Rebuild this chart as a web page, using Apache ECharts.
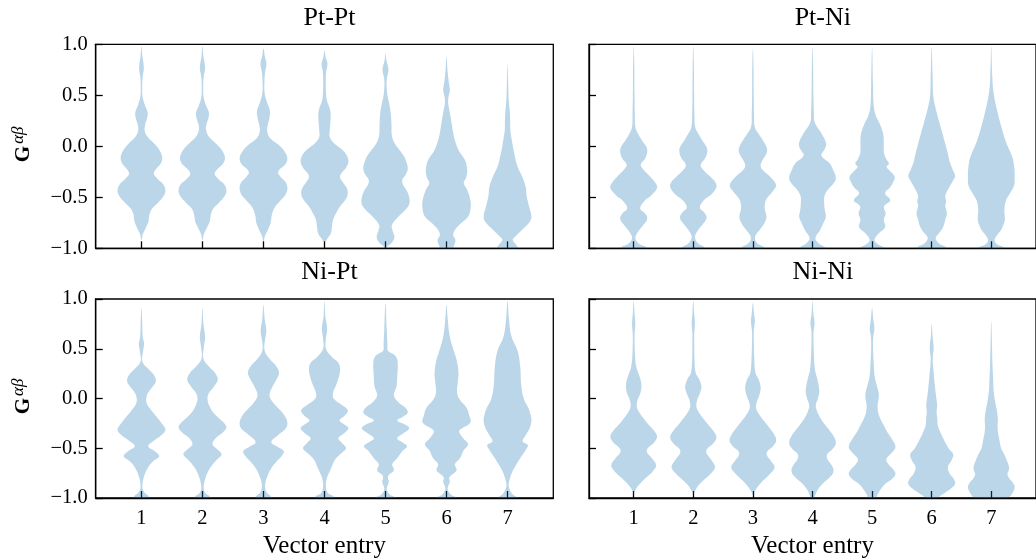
<!DOCTYPE html>
<html>
<head>
<meta charset="utf-8">
<script src="https://cdn.jsdelivr.net/npm/echarts@6/dist/echarts.min.js"></script>
<style>
  html, body { margin: 0; padding: 0; background: #fff; }
  #chart { width: 1036px; height: 560px; }
</style>
</head>
<body>
<div id="chart"></div>
<script>
// Panel titles, vector entries and y ticks
const panelTitles = ['Pt-Pt', 'Pt-Ni', 'Ni-Pt', 'Ni-Ni'];
const entries = [1, 2, 3, 4, 5, 6, 7];
const yTicks = [-1.0, -0.5, 0.0, 0.5, 1.0];

// Violin profiles per vector entry: [G value, relative density (peak = 1)]
const ptPt = [
  [[0.98,0],[0.88,0.04],[0.77,0.1],[0.68,0.05],[0.58,0.03],[0.48,0.05],[0.4,0.15],[0.33,0.26],[0.27,0.23],[0.21,0.15],[0.15,0.14],[0.09,0.26],[0.03,0.52],[-0.04,0.76],[-0.11,0.87],[-0.17,0.8],[-0.22,0.62],[-0.27,0.52],[-0.32,0.68],[-0.37,0.9],[-0.43,1.0],[-0.49,0.92],[-0.55,0.7],[-0.61,0.45],[-0.67,0.33],[-0.74,0.29],[-0.8,0.18],[-0.86,0.06],[-0.92,0]],
  [[0.98,0],[0.88,0.04],[0.77,0.11],[0.68,0.05],[0.58,0.03],[0.48,0.05],[0.4,0.15],[0.33,0.27],[0.27,0.24],[0.21,0.16],[0.16,0.15],[0.09,0.28],[0.03,0.55],[-0.04,0.82],[-0.11,0.94],[-0.17,0.86],[-0.22,0.64],[-0.27,0.51],[-0.32,0.66],[-0.37,0.9],[-0.43,1.0],[-0.49,0.92],[-0.55,0.7],[-0.61,0.45],[-0.67,0.35],[-0.74,0.3],[-0.8,0.18],[-0.86,0.06],[-0.92,0]],
  [[0.96,0],[0.88,0.06],[0.81,0.125],[0.73,0.07],[0.63,0.04],[0.52,0.05],[0.43,0.15],[0.35,0.27],[0.28,0.25],[0.2,0.17],[0.14,0.16],[0.08,0.28],[0.02,0.6],[-0.05,0.88],[-0.12,1.0],[-0.18,0.9],[-0.22,0.7],[-0.26,0.61],[-0.3,0.72],[-0.35,0.92],[-0.41,1.0],[-0.47,0.93],[-0.53,0.72],[-0.6,0.47],[-0.67,0.35],[-0.75,0.3],[-0.82,0.18],[-0.88,0.06],[-0.94,0]],
  [[0.94,0],[0.87,0.05],[0.81,0.125],[0.73,0.07],[0.65,0.055],[0.55,0.06],[0.45,0.1],[0.37,0.22],[0.3,0.26],[0.22,0.24],[0.15,0.22],[0.09,0.22],[0.03,0.4],[-0.03,0.72],[-0.09,0.93],[-0.15,1.0],[-0.21,0.9],[-0.26,0.72],[-0.3,0.65],[-0.35,0.76],[-0.41,0.93],[-0.47,0.97],[-0.53,0.86],[-0.6,0.62],[-0.66,0.48],[-0.72,0.36],[-0.79,0.31],[-0.85,0.27],[-0.9,0.14],[-0.94,0]],
  [[0.91,0],[0.84,0.04],[0.75,0.125],[0.67,0.06],[0.6,0.045],[0.5,0.08],[0.4,0.17],[0.3,0.23],[0.2,0.25],[0.1,0.27],[0.03,0.38],[-0.04,0.6],[-0.1,0.78],[-0.16,0.88],[-0.22,0.93],[-0.28,0.84],[-0.33,0.7],[-0.38,0.74],[-0.44,0.9],[-0.5,0.99],[-0.56,1.0],[-0.61,0.88],[-0.67,0.62],[-0.73,0.38],[-0.78,0.26],[-0.83,0.3],[-0.89,0.37],[-0.94,0.28],[-0.98,0.08],[-1.0,0]],
  [[0.88,0],[0.75,0.04],[0.62,0.1],[0.55,0.14],[0.48,0.08],[0.42,0.07],[0.33,0.14],[0.23,0.21],[0.13,0.28],[0.06,0.35],[-0.04,0.51],[-0.13,0.76],[-0.22,0.86],[-0.3,0.83],[-0.36,0.72],[-0.43,0.87],[-0.53,1.0],[-0.62,1.0],[-0.69,0.9],[-0.75,0.63],[-0.82,0.35],[-0.87,0.28],[-0.92,0.375],[-0.98,0.3],[-1.1,0.1]],
  [[0.81,0],[0.6,0.03],[0.45,0.05],[0.35,0.09],[0.25,0.11],[0.15,0.12],[0.06,0.18],[-0.07,0.28],[-0.2,0.42],[-0.3,0.62],[-0.4,0.76],[-0.49,0.8],[-0.59,0.9],[-0.69,1.0],[-0.75,0.9],[-0.82,0.6],[-0.89,0.3],[-0.92,0.22],[-0.97,0.38],[-1.0,0.42],[-1.1,0.1]]
];
const ptNi = [
  [[0.98,0],[0.8,0.025],[0.5,0.035],[0.3,0.05],[0.19,0.07],[0.13,0.17],[0.06,0.35],[0.0,0.53],[-0.05,0.58],[-0.12,0.49],[-0.18,0.3],[-0.23,0.42],[-0.3,0.72],[-0.36,0.93],[-0.41,1.0],[-0.48,0.76],[-0.54,0.44],[-0.61,0.28],[-0.66,0.49],[-0.71,0.58],[-0.77,0.42],[-0.84,0.18],[-0.9,0.07],[-0.95,0.2],[-1.0,0.56],[-1.1,0.5]],
  [[0.98,0],[0.8,0.025],[0.5,0.035],[0.3,0.05],[0.19,0.08],[0.13,0.2],[0.06,0.38],[0.0,0.55],[-0.05,0.6],[-0.12,0.5],[-0.18,0.32],[-0.23,0.42],[-0.3,0.74],[-0.35,0.94],[-0.4,0.99],[-0.47,0.78],[-0.53,0.45],[-0.6,0.28],[-0.65,0.47],[-0.7,0.57],[-0.76,0.42],[-0.83,0.18],[-0.89,0.07],[-0.95,0.2],[-1.0,0.51],[-1.1,0.45]],
  [[0.96,0],[0.8,0.025],[0.5,0.035],[0.3,0.05],[0.19,0.08],[0.12,0.25],[0.05,0.45],[-0.02,0.6],[-0.07,0.58],[-0.13,0.43],[-0.19,0.33],[-0.24,0.45],[-0.3,0.75],[-0.38,0.99],[-0.45,0.82],[-0.51,0.6],[-0.57,0.51],[-0.63,0.52],[-0.69,0.58],[-0.75,0.5],[-0.81,0.32],[-0.87,0.12],[-0.92,0.1],[-0.96,0.25],[-1.0,0.51],[-1.1,0.45]],
  [[0.97,0],[0.8,0.025],[0.5,0.04],[0.33,0.06],[0.23,0.1],[0.13,0.375],[0.03,0.58],[-0.03,0.52],[-0.09,0.38],[-0.17,0.75],[-0.24,0.9],[-0.31,1.0],[-0.37,0.88],[-0.43,0.64],[-0.49,0.51],[-0.56,0.5],[-0.63,0.53],[-0.69,0.57],[-0.75,0.47],[-0.82,0.33],[-0.9,0.125],[-0.95,0.26],[-1.0,0.56],[-1.1,0.5]],
  [[0.97,0],[0.6,0.04],[0.4,0.07],[0.3,0.16],[0.23,0.31],[0.15,0.44],[0.1,0.49],[0.0,0.5],[-0.07,0.51],[-0.13,0.62],[-0.17,0.72],[-0.2,0.62],[-0.25,0.8],[-0.3,0.97],[-0.35,0.9],[-0.4,0.78],[-0.46,0.56],[-0.53,0.78],[-0.59,0.51],[-0.66,0.58],[-0.72,0.5],[-0.79,0.56],[-0.85,0.3],[-0.92,0.1],[-0.96,0.25],[-1.0,0.51],[-1.1,0.45]],
  [[0.97,0],[0.7,0.04],[0.49,0.07],[0.38,0.16],[0.29,0.26],[0.16,0.42],[0.0,0.61],[-0.08,0.7],[-0.16,0.78],[-0.23,0.9],[-0.29,1.0],[-0.34,0.9],[-0.39,0.78],[-0.44,0.66],[-0.49,0.58],[-0.54,0.62],[-0.58,0.58],[-0.66,0.65],[-0.72,0.58],[-0.79,0.49],[-0.85,0.32],[-0.9,0.17],[-0.95,0.3],[-1.0,0.65],[-1.1,0.6]],
  [[0.98,0],[0.7,0.04],[0.55,0.085],[0.39,0.21],[0.2,0.42],[0.03,0.65],[-0.1,0.89],[-0.2,0.98],[-0.3,1.0],[-0.39,0.97],[-0.46,0.8],[-0.53,0.63],[-0.62,0.56],[-0.72,0.58],[-0.77,0.52],[-0.82,0.42],[-0.87,0.25],[-0.92,0.14],[-0.96,0.25],[-1.0,0.56],[-1.1,0.5]]
];
const niPt = [
  [[0.91,0],[0.75,0.035],[0.62,0.055],[0.55,0.11],[0.48,0.07],[0.37,0.04],[0.3,0.28],[0.24,0.51],[0.17,0.6],[0.11,0.44],[0.04,0.24],[-0.04,0.21],[-0.12,0.42],[-0.2,0.69],[-0.28,0.94],[-0.32,1.0],[-0.37,0.83],[-0.43,0.49],[-0.48,0.28],[-0.53,0.56],[-0.58,0.74],[-0.63,0.49],[-0.69,0.28],[-0.79,0.1],[-0.89,0.04],[-0.94,0.11],[-0.99,0.32],[-1.1,0.35]],
  [[0.91,0],[0.75,0.04],[0.62,0.11],[0.52,0.06],[0.4,0.04],[0.32,0.28],[0.26,0.52],[0.19,0.64],[0.12,0.48],[0.05,0.26],[-0.01,0.21],[-0.08,0.3],[-0.14,0.45],[-0.2,0.7],[-0.25,0.92],[-0.29,1.0],[-0.34,0.86],[-0.4,0.55],[-0.46,0.42],[-0.51,0.62],[-0.56,0.8],[-0.61,0.62],[-0.67,0.4],[-0.74,0.22],[-0.82,0.1],[-0.9,0.05],[-0.95,0.12],[-0.99,0.32],[-1.1,0.35]],
  [[0.94,0],[0.8,0.05],[0.68,0.12],[0.58,0.06],[0.48,0.05],[0.4,0.25],[0.33,0.52],[0.26,0.65],[0.19,0.54],[0.11,0.36],[0.03,0.25],[-0.04,0.4],[-0.1,0.63],[-0.17,0.88],[-0.25,1.0],[-0.31,0.9],[-0.37,0.6],[-0.44,0.33],[-0.49,0.62],[-0.53,0.85],[-0.58,0.75],[-0.64,0.52],[-0.71,0.3],[-0.79,0.15],[-0.87,0.07],[-0.94,0.12],[-0.99,0.32],[-1.1,0.35]],
  [[0.98,0],[0.82,0.04],[0.71,0.11],[0.6,0.06],[0.5,0.06],[0.42,0.3],[0.36,0.58],[0.29,0.65],[0.2,0.58],[0.13,0.48],[0.06,0.36],[0.0,0.38],[-0.06,0.7],[-0.12,0.98],[-0.17,0.85],[-0.22,0.63],[-0.26,0.82],[-0.3,1.0],[-0.35,0.82],[-0.4,0.58],[-0.45,0.74],[-0.5,0.9],[-0.55,0.7],[-0.61,0.45],[-0.67,0.33],[-0.73,0.22],[-0.8,0.1],[-0.89,0.06],[-0.95,0.14],[-0.99,0.39],[-1.1,0.4]],
  [[0.96,0],[0.7,0.05],[0.55,0.08],[0.48,0.1],[0.45,0.3],[0.42,0.44],[0.36,0.51],[0.22,0.49],[0.12,0.46],[0.03,0.35],[-0.04,0.55],[-0.09,0.82],[-0.14,0.93],[-0.18,0.75],[-0.22,0.49],[-0.26,0.8],[-0.3,0.99],[-0.35,0.75],[-0.4,0.49],[-0.44,0.7],[-0.48,0.9],[-0.53,0.7],[-0.6,0.49],[-0.66,0.28],[-0.72,0.35],[-0.77,0.13],[-0.8,0.1],[-0.84,0.14],[-0.88,0.08],[-0.92,0.055],[-0.97,0.2],[-1.0,0.42],[-1.1,0.4]],
  [[0.94,0],[0.8,0.05],[0.62,0.14],[0.48,0.3],[0.39,0.42],[0.26,0.5],[0.16,0.47],[0.06,0.44],[-0.01,0.55],[-0.09,0.83],[-0.17,0.95],[-0.24,1.0],[-0.29,0.72],[-0.33,0.53],[-0.4,0.7],[-0.46,0.9],[-0.52,0.72],[-0.6,0.56],[-0.66,0.35],[-0.72,0.42],[-0.77,0.2],[-0.8,0.11],[-0.84,0.14],[-0.88,0.07],[-0.92,0.055],[-0.97,0.2],[-1.0,0.42],[-1.1,0.4]],
  [[0.98,0],[0.8,0.06],[0.62,0.17],[0.48,0.42],[0.32,0.53],[0.12,0.58],[-0.01,0.69],[-0.1,0.88],[-0.16,0.96],[-0.22,1.0],[-0.3,0.92],[-0.37,0.76],[-0.43,0.63],[-0.47,0.85],[-0.52,0.75],[-0.6,0.53],[-0.67,0.35],[-0.73,0.21],[-0.83,0.07],[-0.89,0.055],[-0.96,0.2],[-1.0,0.4],[-1.1,0.4]]
];
const niNi = [
  [[0.98,0],[0.85,0.04],[0.75,0.07],[0.65,0.04],[0.55,0.04],[0.42,0.06],[0.32,0.11],[0.24,0.22],[0.17,0.31],[0.11,0.33],[0.05,0.28],[-0.02,0.16],[-0.09,0.14],[-0.16,0.3],[-0.24,0.56],[-0.31,0.82],[-0.38,1.0],[-0.44,0.88],[-0.5,0.6],[-0.54,0.57],[-0.6,0.78],[-0.67,0.96],[-0.73,0.82],[-0.79,0.56],[-0.85,0.3],[-0.9,0.12],[-0.94,0.04],[-0.96,0]],
  [[0.98,0],[0.85,0.04],[0.76,0.07],[0.65,0.04],[0.55,0.04],[0.4,0.05],[0.26,0.1],[0.2,0.24],[0.15,0.32],[0.11,0.35],[0.05,0.28],[-0.02,0.16],[-0.09,0.14],[-0.16,0.3],[-0.24,0.56],[-0.32,0.84],[-0.39,0.99],[-0.45,0.86],[-0.51,0.58],[-0.55,0.57],[-0.62,0.78],[-0.69,0.93],[-0.75,0.76],[-0.82,0.45],[-0.88,0.2],[-0.94,0.05],[-0.96,0]],
  [[0.96,0],[0.85,0.05],[0.78,0.085],[0.68,0.04],[0.55,0.04],[0.4,0.06],[0.26,0.11],[0.19,0.25],[0.13,0.32],[0.09,0.33],[0.03,0.27],[-0.04,0.16],[-0.1,0.14],[-0.17,0.3],[-0.25,0.56],[-0.34,0.85],[-0.42,1.0],[-0.48,0.86],[-0.53,0.62],[-0.57,0.6],[-0.63,0.78],[-0.69,0.93],[-0.75,0.76],[-0.83,0.42],[-0.89,0.2],[-0.94,0.06],[-0.97,0]],
  [[0.98,0],[0.85,0.04],[0.76,0.09],[0.68,0.05],[0.6,0.04],[0.45,0.06],[0.3,0.1],[0.2,0.2],[0.12,0.27],[0.06,0.29],[0.0,0.23],[-0.07,0.14],[-0.13,0.2],[-0.2,0.35],[-0.29,0.62],[-0.37,0.88],[-0.45,1.0],[-0.51,0.85],[-0.56,0.63],[-0.61,0.64],[-0.67,0.82],[-0.73,0.9],[-0.79,0.75],[-0.86,0.42],[-0.92,0.22],[-0.96,0.14],[-1.0,0.07],[-1.04,0]],
  [[0.91,0],[0.8,0.05],[0.7,0.1],[0.62,0.05],[0.5,0.04],[0.35,0.07],[0.22,0.11],[0.13,0.2],[0.07,0.27],[0.03,0.29],[-0.03,0.26],[-0.07,0.235],[-0.14,0.26],[-0.2,0.35],[-0.27,0.5],[-0.33,0.63],[-0.41,0.85],[-0.49,1.0],[-0.55,0.82],[-0.61,0.61],[-0.66,0.7],[-0.71,0.9],[-0.76,1.0],[-0.81,0.85],[-0.86,0.56],[-0.92,0.35],[-0.97,0.22],[-1.0,0.17],[-1.05,0.05]],
  [[0.75,0],[0.62,0.04],[0.5,0.085],[0.43,0.05],[0.35,0.05],[0.25,0.09],[0.12,0.14],[0.0,0.2],[-0.07,0.235],[-0.14,0.21],[-0.2,0.24],[-0.27,0.26],[-0.34,0.37],[-0.4,0.49],[-0.46,0.62],[-0.51,0.75],[-0.56,0.92],[-0.62,0.85],[-0.69,0.69],[-0.76,0.78],[-0.81,0.95],[-0.86,1.0],[-0.91,0.8],[-0.96,0.49],[-1.0,0.28],[-1.1,0.1]],
  [[0.78,0],[0.55,0.03],[0.35,0.05],[0.24,0.07],[0.16,0.085],[0.08,0.1],[-0.04,0.17],[-0.12,0.24],[-0.2,0.28],[-0.27,0.27],[-0.33,0.28],[-0.42,0.35],[-0.5,0.42],[-0.56,0.55],[-0.62,0.66],[-0.67,0.74],[-0.71,0.76],[-0.76,0.69],[-0.8,0.76],[-0.85,0.93],[-0.89,1.0],[-0.94,0.93],[-1.0,0.76],[-1.1,0.5]]
];
const panelProfiles = [ptPt, ptNi, niPt, niNi];

const FONT = 'Liberation Serif';
const FILL = 'rgba(31,119,180,0.3)';
const HALF_WIDTH = 0.392;   // half of the violin width at peak density, in x units

const grids = [
  { left: 95.7, top: 44.3, width: 457.6, height: 204 },
  { left: 589,  top: 44.3, width: 457.6, height: 204 },
  { left: 95.7, top: 299,  width: 457.6, height: 203.7 },
  { left: 589,  top: 299,  width: 457.6, height: 203.7 }
];

function tickText(v) {
  const s = Math.abs(v).toFixed(1);
  return v < 0 ? '\u2212' + s : s;
}

function violinRenderer(profiles) {
  return function (params, api) {
    const pos = api.value(0);
    const prof = profiles[api.value(1)];
    const pts = [];
    for (let i = 0; i < prof.length; i++) {
      pts.push(api.coord([pos + prof[i][1] * HALF_WIDTH, prof[i][0]]));
    }
    for (let i = prof.length - 1; i >= 0; i--) {
      if (prof[i][1] > 0) pts.push(api.coord([pos - prof[i][1] * HALF_WIDTH, prof[i][0]]));
    }
    return {
      type: 'polygon',
      shape: { points: pts, smooth: 0.4 },
      style: { fill: FILL, stroke: null }
    };
  };
}

const axisLineStyle = { color: '#000', width: 1.3 };

const option = {
  animation: false,
  backgroundColor: '#fff',
  title: panelTitles.map((t, i) => ({
    text: t,
    left: grids[i].left + grids[i].width / 2,
    top: grids[i].top - 44.5,
    textAlign: 'center',
    textStyle: { fontFamily: FONT, fontWeight: 'normal', fontSize: 26, color: '#000' }
  })),
  grid: grids.map(g => Object.assign({
    show: true, borderColor: '#000', borderWidth: 1.3, backgroundColor: 'transparent',
    containLabel: false
  }, g)),
  xAxis: grids.map((g, i) => ({
    gridIndex: i,
    type: 'value',
    min: 0.25,
    max: 7.75,
    axisLine: { show: true, onZero: false, lineStyle: axisLineStyle },
    axisTick: { show: true, inside: true, length: 7, customValues: entries, lineStyle: axisLineStyle },
    axisLabel: {
      show: i >= 2, customValues: entries, margin: 10,
      fontFamily: FONT, fontSize: 20.5, color: '#000'
    },
    splitLine: { show: false },
    name: i >= 2 ? 'Vector entry' : '',
    nameLocation: 'middle',
    nameGap: 36,
    nameTextStyle: { fontFamily: FONT, fontSize: 25, color: '#000' }
  })),
  yAxis: grids.map((g, i) => ({
    gridIndex: i,
    type: 'value',
    min: yTicks[0],
    max: yTicks[yTicks.length - 1],
    interval: 0.5,
    axisLine: { show: true, onZero: false, lineStyle: axisLineStyle },
    axisTick: { show: true, inside: true, length: 7, lineStyle: axisLineStyle },
    axisLabel: {
      show: i % 2 === 0, margin: 8,
      fontFamily: FONT, fontSize: 20.5, color: '#000',
      formatter: v => tickText(v)
    },
    splitLine: { show: false },
    name: i % 2 === 0 ? '{g|G}{s|\u03b1\u03b2}' : '',
    nameLocation: 'middle',
    nameRotate: 90,
    nameGap: 62,
    nameTextStyle: {
      rich: {
        g: { fontFamily: FONT, fontWeight: 'bold', fontSize: 21, color: '#000', lineHeight: 24, verticalAlign: 'bottom', padding: [0, 0, 0, 4] },
        s: { fontFamily: FONT, fontStyle: 'italic', fontSize: 17, color: '#000', lineHeight: 18, verticalAlign: 'top', padding: [0, 0, 0, 2] }
      }
    }
  })),
  series: panelProfiles.map((profiles, i) => ({
    type: 'custom',
    xAxisIndex: i,
    yAxisIndex: i,
    clip: true,
    silent: true,
    renderItem: violinRenderer(profiles),
    data: entries.map((e, k) => [e, k])
  }))
};

const chart = echarts.init(document.getElementById('chart'), null, { renderer: 'canvas' });
chart.setOption(option);
</script>
</body>
</html>
